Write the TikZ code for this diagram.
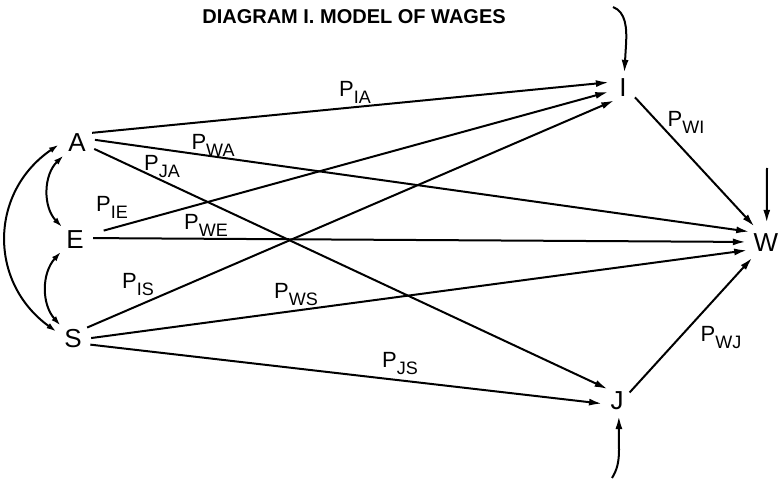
\documentclass[tikz,border=0pt]{standalone}
\usepackage{fontspec}
\setmainfont{Liberation Sans}
\usetikzlibrary{arrows.meta}
\newcommand{\pcoef}[1]{P\raisebox{-7pt}{\fontsize{18}{18}\selectfont #1}}

\begin{document}
\begin{tikzpicture}[x=1pt,y=-1pt,
  var/.style={circle,inner sep=0pt,minimum size=36pt,font=\fontsize{26}{26}\selectfont},
  thin var/.style={var,minimum size=30pt},
  wide var/.style={var,minimum size=40pt},
  arr/.style={line width=2pt,-{Latex[length=13pt,width=7pt]}},
  dblarr/.style={line width=2pt,{Latex[length=10pt,width=6pt]}-{Latex[length=10pt,width=6pt]}},
  coef/.style={inner sep=0pt,font=\fontsize{22}{22}\selectfont}]
\useasboundingbox (0,0) rectangle (780,481);
\node (title) at (354,17) {\fontsize{20}{20}\selectfont\bfseries DIAGRAM I. MODEL OF WAGES};

\node[var] (A) at (77,143) {A};
\node[var] (E) at (75,240) {E};
\node[var] (S) at (73,339) {S};
\node[thin var] (I) at (623,88) {I};
\node[wide var] (W) at (766,243) {W};
\node[thin var] (J) at (617,401) {J};

\coordinate (Itop) at (613,7);
\coordinate (Wtop) at (767,168);
\coordinate (Jbot) at (612,478);

\draw[arr] (A.34) -- (I.158);
\draw[arr,shorten <=12pt] (E.20) -- (I.195);
\draw[arr] (S.39) -- (I.235);
\draw[arr] (A.10) -- (W.146);
\draw[arr] (E.6) -- (W.177);
\draw[arr] (S.3) -- (W.201);
\draw[arr] (A.-19) -- (J.128);
\draw[arr] (S.-18) -- (J.190);
\draw[arr] (I.-38) -- (W.125);
\draw[arr] (J.34) -- (W.227);

\draw[arr] (Itop) .. controls (626,12) and (627,28) .. (626,45) -- (I.85);
\draw[arr] (Wtop) -- (W.88);
\draw[arr] (Jbot) .. controls (617,470) and (619,462) .. (619,450) -- (J.-83);

\draw[dblarr] (A.223) to[bend right=45] (E.135);
\draw[dblarr] (E.220) to[bend right=42] (S.133);
\draw[dblarr] (A.185) to[bend right=55,looseness=1.15] (S.156);

\node[coef] (pIA) at (355,92) {\pcoef{IA}};
\node[coef] (pWA) at (213,145) {\pcoef{WA}};
\node[coef] (pJA) at (162,167) {\pcoef{JA}};
\node[coef] (pIE) at (112,207) {\pcoef{IE}};
\node[coef] (pWE) at (206,225) {\pcoef{WE}};
\node[coef] (pIS) at (138,285) {\pcoef{IS}};
\node[coef] (pWS) at (296,295) {\pcoef{WS}};
\node[coef] (pJS) at (400,364) {\pcoef{JS}};
\node[coef] (pWI) at (686,122) {\pcoef{WI}};
\node[coef] (pWJ) at (721,338) {\pcoef{WJ}};
\end{tikzpicture}
\end{document}
